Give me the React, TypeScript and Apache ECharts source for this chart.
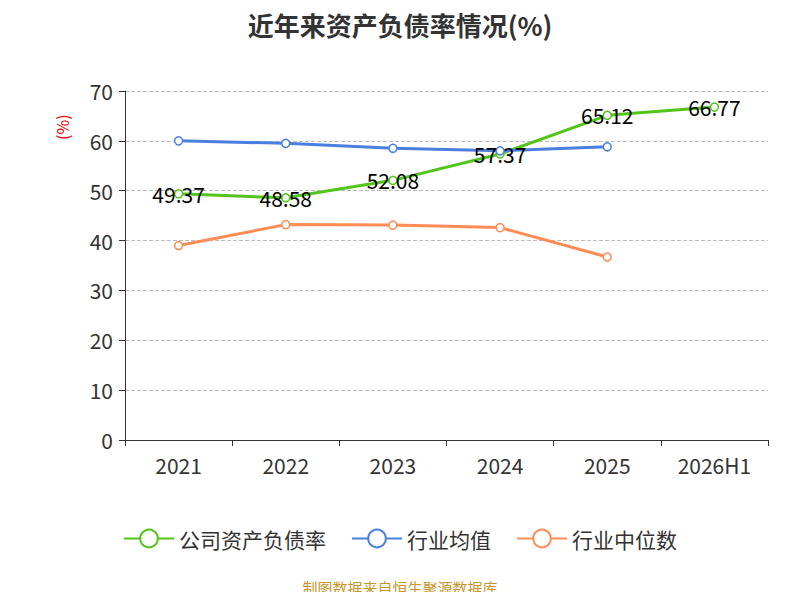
import React, { useEffect, useRef } from "react";
import * as echarts from "echarts";

const categories = ["2021", "2022", "2023", "2024", "2025", "2026H1"];
const companyRatio = [49.37, 48.58, 52.08, 57.37, 65.12, 66.77];
const industryAvg = [60.0, 59.5, 58.5, 58.0, 58.8, null];
const industryMedian = [39.0, 43.2, 43.1, 42.6, 36.7, null];

export default function App() {
  const ref = useRef<HTMLDivElement>(null);

  useEffect(() => {
    if (!ref.current) return;
    const chart = echarts.init(ref.current, undefined, { renderer: "svg" });
    const font = "'Noto Sans CJK SC', 'Noto Sans', sans-serif";
    const line = (name: string, data: any[], color: string, label: boolean) => ({
      name,
      type: "line",
      data,
      symbol: "circle",
      symbolSize: 8,
      lineStyle: { width: 3, color },
      itemStyle: { color: "#fff", borderColor: color, borderWidth: 1.5 },
      label: {
        show: label,
        position: "inside",
        color: "#000",
        fontSize: 21,
        fontFamily: font,
      },
    });
    chart.setOption({
      animation: false,
      textStyle: { fontFamily: font },
      title: {
        text: "近年来资产负债率情况(%)",
        left: "center",
        top: 6,
        textStyle: { fontSize: 26, fontWeight: "bold", color: "#333" },
      },
      grid: { left: 125, right: 32, top: 91, bottom: 160 },
      legend: {
        bottom: 46,
        itemWidth: 50,
        itemHeight: 22,
        itemGap: 25,
        textStyle: { fontSize: 21, color: "#333" },
        data: ["公司资产负债率", "行业均值", "行业中位数"],
      },
      graphic: [
        {
          type: "text",
          left: "center",
          top: 580,
          style: { text: "制图数据来自恒生聚源数据库", fill: "#c8962a", fontSize: 15, fontFamily: font },
        },
        {
          type: "text",
          x: 54,
          y: 140,
          rotation: Math.PI / 2,
          style: { text: "(%)", fill: "#e00", fontSize: 16, fontFamily: font },
        },
      ],
      xAxis: {
        type: "category",
        data: categories,
        axisLine: { lineStyle: { color: "#333" } },
        axisTick: { show: true, length: 6, lineStyle: { color: "#333" } },
        axisLabel: { fontSize: 21, color: "#333", margin: 14 },
      },
      yAxis: {
        type: "value",
        min: 0,
        max: 70,
        interval: 10,
        axisLine: { show: true, lineStyle: { color: "#333" } },
        axisTick: { show: true, length: 6, lineStyle: { color: "#333" } },
        axisLabel: { fontSize: 21, color: "#333", margin: 12 },
        splitLine: { lineStyle: { type: "dashed", color: "#bbb" } },
      },
      series: [
        line("公司资产负债率", companyRatio, "#52c41a", true),
        line("行业均值", industryAvg, "#4a7fe0", false),
        line("行业中位数", industryMedian, "#ff8c55", false),
      ],
    });
    return () => chart.dispose();
  }, []);

  return <div ref={ref} style={{ width: 800, height: 600, margin: -8 }} />;
}
